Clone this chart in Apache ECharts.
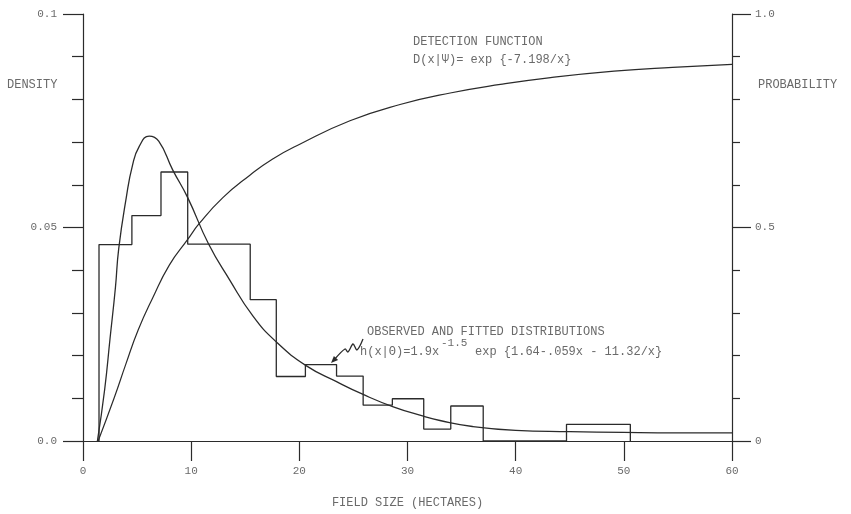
<!DOCTYPE html>
<html>
<head>
<meta charset="utf-8">
<script src="https://cdn.jsdelivr.net/npm/echarts@6/dist/echarts.min.js"></script>
<style>
html,body{margin:0;padding:0;background:#fff;}
#chart{width:851px;height:514px;}
</style>
</head>
<body>
<div id="chart"></div>
<script>
// Histogram (observed distribution): bin edges (hectares) and densities
var binEdges = [1.48, 4.52, 7.21, 9.68, 15.46, 17.87, 20.56, 23.44, 25.9, 28.6, 31.5, 34.0, 37.0, 44.7, 50.6];
var binDensity = [0.046, 0.0528, 0.063, 0.0461, 0.0331, 0.0151, 0.0179, 0.0152, 0.0084, 0.0099, 0.0028, 0.0082, 0, 0.0039];

// Fitted distribution h(x|Θ)
var fittedX = [1.33, 2.0, 2.5, 3.0, 3.3, 4.0, 4.57, 5.2, 6.12, 7.0, 8.29, 9.68, 11.6, 13.54, 15.7, 17.87, 20.66, 23.44, 25.9, 28.69, 31.47, 33.0, 36.0, 40.0, 45.0, 50.0, 55.0, 60.0];
var fittedY = [0, 0.012, 0.024, 0.036, 0.045, 0.057, 0.0645, 0.069, 0.0714, 0.0702, 0.0635, 0.057, 0.0462, 0.0378, 0.0293, 0.0232, 0.0176, 0.0139, 0.0109, 0.0080, 0.0058, 0.0048, 0.0034, 0.0025, 0.0022, 0.0020, 0.0019, 0.0019];

// Detection function D(x|Ψ) (right axis)
var detectX = [1.4, 2.87, 3.96, 5.1, 6.44, 7.98, 9.68, 10.77, 12.93, 15.4, 17.5, 20.04, 24.68, 29.31, 33.95, 38.59, 43.23, 49.1, 54.5, 60.0];
var detectY = [0, 0.1, 0.18, 0.26, 0.335, 0.412, 0.472, 0.51, 0.57, 0.622, 0.66, 0.695, 0.75, 0.788, 0.815, 0.835, 0.851, 0.866, 0.875, 0.882];

// Tick labels
var leftTicks = [0, 0.05, 0.1];
var leftTickLabels = ['0.0', '0.05', '0.1'];
var rightTicks = [0, 0.5, 1.0];
var rightTickLabels = ['0', '0.5', '1.0'];

function pairs(xs, ys) { return xs.map(function (x, i) { return [x, ys[i]]; }); }
function histOutline(edges, h) {
  var pts = [[edges[0], 0]];
  for (var i = 0; i < h.length; i++) {
    pts.push([edges[i], h[i]]);
    pts.push([edges[i + 1], h[i]]);
  }
  pts.push([edges[edges.length - 1], 0]);
  return pts;
}
function lookup(ticks, labels) {
  return function (v) {
    for (var i = 0; i < ticks.length; i++) if (Math.abs(v - ticks[i]) < 1e-9) return labels[i];
    return '';
  };
}

var FONT = "'Liberation Mono', monospace";
var TXT = '#6a6a6a';
var LINE = '#2b2b2b';

var chart = echarts.init(document.getElementById('chart'), null, {renderer: 'canvas'});
chart.setOption({
  backgroundColor: '#ffffff',
  animation: false,
  grid: {left: 83, right: 119, top: 14, bottom: 67},
  xAxis: {
    type: 'value', min: 0, max: 60, interval: 10,
    splitLine: {show: false},
    axisLine: {onZero: false, lineStyle: {color: LINE, width: 1.2}},
    axisTick: {length: 20, lineStyle: {color: LINE, width: 1.2}},
    axisLabel: {margin: 25, color: TXT, fontFamily: FONT, fontSize: 11},
    name: 'FIELD SIZE (HECTARES)', nameLocation: 'middle', nameGap: 56,
    nameTextStyle: {color: TXT, fontFamily: FONT, fontSize: 12}
  },
  yAxis: [{
    type: 'value', min: 0, max: 0.1, interval: 0.05, position: 'left',
    splitLine: {show: false},
    axisLine: {show: true, lineStyle: {color: LINE, width: 1.2}},
    axisTick: {show: true, length: 20, lineStyle: {color: LINE, width: 1.2}},
    minorTick: {show: true, splitNumber: 5, length: 11, lineStyle: {color: LINE, width: 1.2}},
    minorSplitLine: {show: false},
    axisLabel: {margin: 26, color: TXT, fontFamily: FONT, fontSize: 11, formatter: lookup(leftTicks, leftTickLabels)}
  }, {
    type: 'value', min: 0, max: 1, interval: 0.5, position: 'right',
    splitLine: {show: false},
    axisLine: {show: true, lineStyle: {color: LINE, width: 1.2}},
    axisTick: {show: true, length: 19, lineStyle: {color: LINE, width: 1.2}},
    minorTick: {show: true, splitNumber: 5, length: 8, lineStyle: {color: LINE, width: 1.2}},
    minorSplitLine: {show: false},
    axisLabel: {margin: 23, color: TXT, fontFamily: FONT, fontSize: 11, formatter: lookup(rightTicks, rightTickLabels)}
  }],
  series: [{
    name: 'Observed', type: 'line', yAxisIndex: 0, symbol: 'none',
    data: histOutline(binEdges, binDensity),
    lineStyle: {color: LINE, width: 1.3}
  }, {
    name: 'Fitted', type: 'line', yAxisIndex: 0, symbol: 'none', smooth: 0.5,
    data: pairs(fittedX, fittedY),
    lineStyle: {color: LINE, width: 1.3}
  }, {
    name: 'Detection', type: 'line', yAxisIndex: 1, symbol: 'none', smooth: 0.5,
    data: pairs(detectX, detectY),
    lineStyle: {color: LINE, width: 1.2}
  }],
  graphic: [
    {type: 'text', left: 7, top: 79, style: {text: 'DENSITY', fill: TXT, font: '12px ' + FONT}},
    {type: 'text', left: 758, top: 79, style: {text: 'PROBABILITY', fill: TXT, font: '12px ' + FONT}},
    {type: 'text', left: 413, top: 36, style: {text: 'DETECTION FUNCTION', fill: TXT, font: '12px ' + FONT}},
    {type: 'text', left: 413, top: 54, style: {text: 'D(x|Ψ)= exp {-7.198/x}', fill: TXT, font: '12px ' + FONT}},
    {type: 'text', left: 367, top: 326, style: {text: 'OBSERVED AND FITTED DISTRIBUTIONS', fill: TXT, font: '12px ' + FONT}},
    {type: 'text', left: 360, top: 346, style: {text: 'h(x|Θ)=1.9x', fill: TXT, font: '12px ' + FONT}},
    {type: 'text', left: 441, top: 338, style: {text: '-1.5', fill: TXT, font: '11px ' + FONT}},
    {type: 'text', left: 475, top: 346, style: {text: 'exp {1.64-.059x - 11.32/x}', fill: TXT, font: '12px ' + FONT}},
    {type: 'polyline', shape: {points: [[363, 339], [357, 350], [353, 344], [348, 352], [345, 349], [334, 360]], smooth: 0.3},
      style: {stroke: LINE, lineWidth: 1.3, fill: null}},
    {type: 'polygon', shape: {points: [[331, 363], [338.1, 360.1], [333.9, 355.9]]}, style: {fill: LINE}}
  ]
});
</script>
</body>
</html>
